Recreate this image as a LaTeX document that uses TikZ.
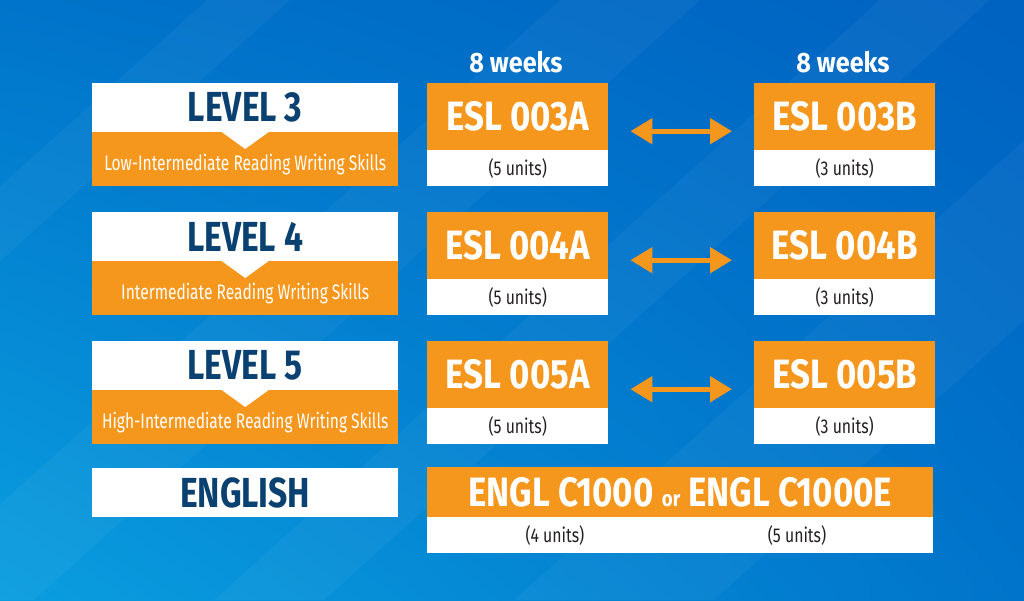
\documentclass[tikz,border=0pt]{standalone}
\usepackage{fontspec}
\setmainfont{Fira Sans}
\usetikzlibrary{positioning, arrows.meta, shadings}
\definecolor{bgdark}{HTML}{0062C1}
\definecolor{bgmid}{HTML}{0074CA}
\definecolor{bglight}{HTML}{0A9EDF}
\definecolor{crsorange}{HTML}{F5961D}
\definecolor{navy}{HTML}{0B4170}
\definecolor{ink}{HTML}{231F20}
\tikzset{
  lvlbox/.style={rectangle, fill=white, text=navy, inner sep=0pt, minimum width=306pt, minimum height=49pt, anchor=north west, font=\bfseries\addfontfeatures{FakeStretch=0.80}\fontsize{42}{42}\selectfont},
  skillbox/.style={rectangle, fill=crsorange, inner sep=0pt, minimum width=306pt, minimum height=54pt, anchor=north west},
  skilltext/.style={text=white, inner sep=0pt, font=\addfontfeatures{FakeStretch=0.74}\fontsize{21}{21}\selectfont},
  codebox/.style={rectangle, fill=crsorange, text=white, inner sep=0pt, minimum width=181pt, minimum height=67pt, anchor=north west, font=\bfseries\addfontfeatures{FakeStretch=0.85}\fontsize{41}{41}\selectfont},
  unitbox/.style={rectangle, fill=white, text=ink, inner sep=0pt, minimum width=181pt, minimum height=36pt, anchor=north west, font=\addfontfeatures{FakeStretch=0.79}\fontsize{20}{20}\selectfont},
  unittext/.style={text=ink, inner sep=0pt, font=\addfontfeatures{FakeStretch=0.79}\fontsize{20}{20}\selectfont},
  weeks/.style={text=white, inner sep=0pt, font=\bfseries\addfontfeatures{FakeStretch=0.90}\fontsize{28}{28}\selectfont},
  notch/.style={fill=white},
  dblarrow/.style={draw=crsorange, line width=5pt, {Triangle[length=22pt,width=25pt]}-{Triangle[length=22pt,width=25pt]}, shorten <=22pt, shorten >=22pt},
  stripe/.style={fill=white, opacity=0.04}
}
\begin{document}
\begin{tikzpicture}[x=1pt, y=-1pt]
            \useasboundingbox (0,0) rectangle (1024,600);
            \shade[upper left=bgmid, upper right=bgdark, lower left=bglight, lower right=bgmid] (0,0) rectangle (1024,600);
            \foreach \sx/\sw in {-83/83, 207/83, 560/140, 880/110, 1180/200}
                \fill[stripe] (\sx,0) -- (\sx+\sw,0) -- (\sx+\sw-666,600) -- (\sx-666,600) -- cycle;

            \node[weeks] (wkA) at (516,62) {8 weeks};
            \node[weeks] (wkB) at (843,62) {8 weeks};

            \node[lvlbox] (lvl3) at (92,83) {LEVEL 3};
            \node[skillbox] (sk3) at (92,132) {};
            \node[lvlbox] (lvl4) at (92,212) {LEVEL 4};
            \node[skillbox] (sk4) at (92,261) {};
            \node[lvlbox] (lvl5) at (92,341) {LEVEL 5};
            \node[skillbox] (sk5) at (92,390) {};
            \node[lvlbox] (engl) at (92,468) {ENGLISH};

            \fill[notch] ([xshift=-23.5pt]sk3.north) -- ([xshift=23.5pt]sk3.north) -- ([yshift=-17pt]sk3.north) -- cycle;
            \fill[notch] ([xshift=-23.5pt]sk4.north) -- ([xshift=23.5pt]sk4.north) -- ([yshift=-17pt]sk4.north) -- cycle;
            \fill[notch] ([xshift=-23.5pt]sk5.north) -- ([xshift=23.5pt]sk5.north) -- ([yshift=-17pt]sk5.north) -- cycle;

            \node[skilltext, yshift=-5pt] (sk3t) at (sk3.center) {Low-Intermediate Reading Writing Skills};
            \node[skilltext, yshift=-5pt] (sk4t) at (sk4.center) {Intermediate Reading Writing Skills};
            \node[skilltext, yshift=-5pt] (sk5t) at (sk5.center) {High-Intermediate Reading Writing Skills};

            \node[codebox] (a3) at (427,83) {ESL 003A};
            \node[unitbox] (a3u) at (427,150) {(5 units)};
            \node[codebox] (b3) at (754,83) {ESL 003B};
            \node[unitbox] (b3u) at (754,150) {(3 units)};
            \node[codebox] (a4) at (427,212) {ESL 004A};
            \node[unitbox] (a4u) at (427,279) {(5 units)};
            \node[codebox] (b4) at (754,212) {ESL 004B};
            \node[unitbox] (b4u) at (754,279) {(3 units)};
            \node[codebox] (a5) at (427,341) {ESL 005A};
            \node[unitbox] (a5u) at (427,408) {(5 units)};
            \node[codebox] (b5) at (754,341) {ESL 005B};
            \node[unitbox] (b5u) at (754,408) {(3 units)};

            \node[codebox, minimum width=506pt, minimum height=50pt] (c1000) at (427,467) {ENGL C1000 {\fontsize{22}{22}\selectfont or} ENGL C1000E};
            \node[unitbox, minimum width=506pt] (c1000u) at (427,517) {};
            \node[unittext] (u4) at (555,535) {(4 units)};
            \node[unittext] (u5) at (797,535) {(5 units)};

            \draw[dblarrow] ([yshift=-14.5pt]a3.east) -- ([yshift=-14.5pt]b3.west);
            \draw[dblarrow] ([yshift=-14.5pt]a4.east) -- ([yshift=-14.5pt]b4.west);
            \draw[dblarrow] ([yshift=-14.5pt]a5.east) -- ([yshift=-14.5pt]b5.west);
        \end{tikzpicture}
\end{document}
